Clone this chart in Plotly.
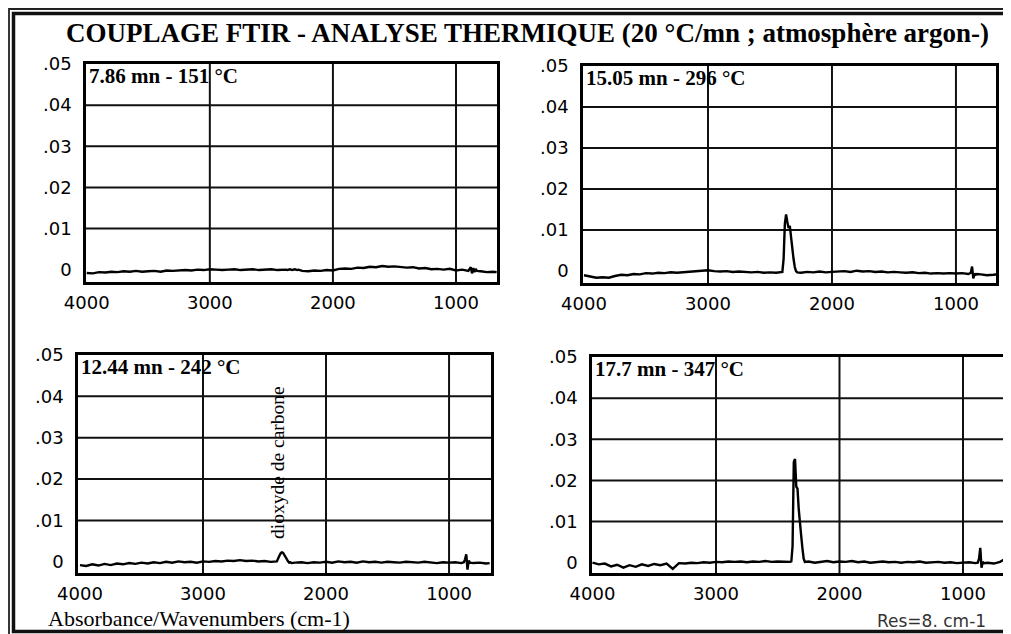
import plotly.graph_objects as go

# ---------------- data ----------------
wavenumbers = [4000, 3950, 3900, 3850, 3800, 3750, 3700, 3650, 3600, 3550, 3500, 3450, 3400, 3350,
               3300, 3250, 3200, 3150, 3100, 3050, 3000, 2950, 2900, 2850, 2800, 2750, 2700, 2650,
               2600, 2550, 2500, 2450,
               2400, 2390, 2380, 2370, 2360, 2350, 2340, 2330, 2320, 2310, 2300, 2290, 2280,
               2250, 2200, 2150, 2100, 2050, 2000, 1950, 1900, 1850, 1800, 1750, 1700, 1650, 1600,
               1550, 1500, 1450, 1400, 1350, 1300, 1250, 1200, 1150, 1100, 1050, 1000, 950, 900,
               880, 870, 860, 850, 840, 830,
               800, 750, 700, 670]

# absorbance values in milli-absorbance units (x 0.001)
spec_786 = [-0.8, -0.9, -0.6, -0.7, -0.5, -0.6, -0.4, -0.5, -0.3, -0.5, -0.4, -0.3, -0.5, -0.2,
            -0.3, -0.2, -0.1, -0.2, 0.0, -0.1, 0.1, 0.0, -0.1, 0.0, 0.1, -0.1, 0.0, 0.1,
            -0.1, 0.0, 0.1, -0.1,
            0.0, 0.1, 0.0, -0.1, 0.0, 0.1, 0.0, -0.1, 0.0, 0.1, 0.0, -0.1, 0.0,
            -0.3, -0.4, -0.2, -0.3, -0.1, -0.2, 0.2, 0.3, 0.2, 0.5, 0.4, 0.7, 0.6, 0.9,
            0.7, 0.8, 0.6, 0.5, 0.6, 0.3, 0.4, 0.1, 0.2, 0.0, 0.2, -0.2, 0.0, -0.3,
            0.6, -0.9, 0.4, -0.6, 0.2, -0.3,
            -0.4, -0.6, -0.5, -0.6]

spec_1505 = [-1.0, -1.3, -1.6, -1.5, -1.6, -1.2, -0.9, -1.0, -0.7, -0.8, -0.5, -0.6, -0.4, -0.5,
             -0.3, -0.4, -0.3, -0.1, 0.0, 0.1, 0.2, 0.0, -0.1, 0.0, -0.2, -0.1, -0.2, -0.3,
             -0.2, -0.4, -0.3, -0.4,
             -0.2, 3.0, 11.5, 13.8, 12.0, 10.5, 11.0, 8.0, 5.5, 3.0, 1.0, 0.0, -0.3,
             -0.4, -0.2, -0.3, -0.1, -0.3, -0.2, -0.1, 0.0, -0.2, 0.1, -0.1, 0.0, -0.2, -0.1,
             -0.3, -0.2, -0.3, -0.4, -0.3, -0.5, -0.4, -0.6, -0.5, -0.6, -0.5, -0.6, -0.5, -0.7,
             -0.4, 1.1, -1.8, -0.6, -0.9, -0.7,
             -0.8, -1.0, -0.9, -0.8]

spec_1244 = [-0.8, -1.0, -0.6, -0.9, -0.5, -0.8, -0.4, -0.6, -0.3, -0.5, -0.2, -0.4, -0.1, -0.3,
             0.0, -0.2, 0.1, -0.1, 0.0, -0.2, 0.1, 0.0, 0.2, 0.1, 0.3, 0.2, 0.4, 0.2,
             0.3, 0.1, 0.2, 0.0,
             0.1, 0.6, 1.4, 2.0, 2.3, 2.2, 1.8, 1.3, 0.7, 0.2, -0.2, -0.1, -0.3,
             -0.2, -0.1, -0.3, -0.1, -0.2, 0.0, -0.2, 0.1, -0.1, 0.0, -0.2, 0.1, -0.1, 0.0,
             -0.2, 0.0, -0.1, -0.2, 0.0, -0.1, -0.2, 0.0, -0.1, -0.3, -0.1, -0.2, -0.1, -0.3,
             -0.1, 0.6, 1.8, -1.9, 0.3, -0.2,
             -0.3, -0.2, -0.4, -0.3]

spec_177 = [0.0, -0.4, -0.2, -0.9, -0.5, -1.2, -0.6, -1.0, -0.4, -0.8, -0.3, -0.6, -0.2, -1.5,
            -0.1, -0.2, 0.0, -0.1, 0.1, 0.0, 0.2, 0.1, 0.3, 0.2, 0.3, 0.1, 0.3, 0.2,
            0.4, 0.2, 0.3, 0.2,
            0.2, 0.3, 4.0, 24.5, 25.2, 18.5, 18.0, 13.0, 9.0, 6.5, 3.5, 1.0, 0.2,
            0.3, 0.0, 0.2, 0.4, 0.1, 0.3, 0.2, 0.4, 0.1, 0.3, 0.0, 0.2, 0.3, 0.1,
            0.2, 0.0, 0.2, 0.1, 0.3, 0.0, 0.1, 0.2, 0.0, 0.1, -0.1, 0.0, 0.1, -0.1,
            0.0, 1.0, 3.6, -1.2, 0.2, -0.1,
            0.0, -0.2, 0.2, 0.7]

panel_labels = ["7.86 mn - 151 °C", "15.05 mn - 296 °C", "12.44 mn - 242 °C", "17.7 mn - 347 °C"]
x_tick_vals = [4000, 3000, 2000, 1000]
x_tick_text = ["4000", "3000", "2000", "1000"]
y_tick_vals = [0, 0.01, 0.02, 0.03, 0.04, 0.05]
y_tick_text = ["0", ".01", ".02", ".03", ".04", ".05"]
grid_x = [3000, 2000, 1000]
grid_y = [0.01, 0.02, 0.03, 0.04]

title_text = "COUPLAGE FTIR - ANALYSE THERMIQUE (20 °C/mn ; atmosphère argon-)"
co2_label = "dioxyde de carbone"
footer_left = "Absorbance/Wavenumbers (cm-1)"
footer_right = "Res=8. cm-1"

# ---------------- layout ----------------
W, H = 1011, 634
OFF = 8  # the page places the figure 8 px from the window's top-left corner


def px(x):
    return (x - OFF) / W


def py(y):
    return 1 - (y - OFF) / H


# window-pixel boxes (left, top, right, bottom) and axis ranges for each panel
boxes = [(86, 64, 497, 282), (583, 66, 996, 283), (78, 355, 491, 573), (592, 357, 1003, 573)]
x_ranges = [[4006, 667], [4008, 677], [4016, 659], [4004, 676]]
y_ranges = [[-0.0030, 0.05], [-0.0029, 0.05], [-0.0027, 0.05], [-0.0025, 0.05]]
spectra = [spec_786, spec_1505, spec_1244, spec_177]

tick_font = dict(family="DejaVu Sans", size=18, color="black")
serif_bold = dict(family="Liberation Serif", size=21, color="black", weight="bold")

fig = go.Figure()
layout = dict(
    width=W, height=H, autosize=False,
    margin=dict(l=0, r=0, t=0, b=0, pad=0, autoexpand=False),
    paper_bgcolor="white", plot_bgcolor="white", showlegend=False,
)
shapes = []
annotations = []

for i in range(4):
    n = "" if i == 0 else str(i + 1)
    xr, yr = "x" + n, "y" + n
    l, t, r, b = boxes[i]
    fig.add_trace(go.Scatter(
        x=wavenumbers, y=[v * 0.001 for v in spectra[i]], xaxis=xr, yaxis=yr,
        mode="lines", line=dict(color="black", width=2.4), hoverinfo="skip",
    ))
    layout["xaxis" + n] = dict(
        domain=[px(l), px(r)], range=x_ranges[i], anchor=yr, automargin=False,
        showgrid=False, zeroline=False, showline=True, mirror=True,
        linecolor="black", linewidth=2.5,
        tickmode="array", tickvals=x_tick_vals, ticktext=x_tick_text,
        ticks="", tickfont=tick_font, ticklabelstandoff=3,
    )
    layout["yaxis" + n] = dict(
        domain=[py(b), py(t)], range=y_ranges[i], anchor=xr, automargin=False,
        showgrid=False, zeroline=False, showline=True, mirror=True,
        linecolor="black", linewidth=2.5,
        tickmode="array", tickvals=y_tick_vals, ticktext=y_tick_text,
        ticks="", tickfont=tick_font, ticklabelstandoff=8,
    )
    for gx in grid_x:
        shapes.append(dict(type="line", xref=xr, yref=yr + " domain", x0=gx, x1=gx, y0=0, y1=1,
                           line=dict(color="#111", width=2), layer="below"))
    for gy in grid_y:
        shapes.append(dict(type="line", xref=xr + " domain", yref=yr, x0=0, x1=1, y0=gy, y1=gy,
                           line=dict(color="#111", width=2), layer="below"))
    annotations.append(dict(
        text=panel_labels[i], xref=xr + " domain", yref=yr + " domain", x=0.0, y=1.0,
        xanchor="left", yanchor="top", showarrow=False, font=serif_bold, xshift=1, yshift=2,
    ))

# rotated CO2 label in the lower-left panel
annotations.append(dict(
    text=co2_label, xref="x3", yref="y3", x=2395, y=0.024, textangle=-90,
    showarrow=False, font=dict(family="Liberation Serif", size=19.5, color="black"),
))
# main title
annotations.append(dict(
    text=title_text, xref="paper", yref="paper", x=px(527), y=py(33),
    xanchor="center", yanchor="middle", showarrow=False,
    font=dict(family="Liberation Serif", size=27, color="black", weight="bold"),
))
# footer texts
annotations.append(dict(
    text=footer_left, xref="paper", yref="paper", x=px(46), y=py(618),
    xanchor="left", yanchor="middle", showarrow=False,
    font=dict(family="Liberation Serif", size=22, color="black"),
))
annotations.append(dict(
    text=footer_right, xref="paper", yref="paper", x=px(988), y=py(621),
    xanchor="right", yanchor="middle", showarrow=False,
    font=dict(family="DejaVu Sans", size=17, color="#333"),
))

# double page frame (outer thin line, inner thick line)
shapes.append(dict(type="rect", xref="paper", yref="paper",
                   x0=px(9), x1=px(1060), y0=py(700), y1=py(9),
                   line=dict(color="#222", width=1.8), layer="above"))
shapes.append(dict(type="rect", xref="paper", yref="paper",
                   x0=px(13.5), x1=px(1050), y0=py(631.5), y1=py(13.5),
                   line=dict(color="#111", width=3.5), layer="above"))

layout["shapes"] = shapes
layout["annotations"] = annotations
fig.update_layout(**layout)

fig.write_html("out.html", config={"displayModeBar": False})
